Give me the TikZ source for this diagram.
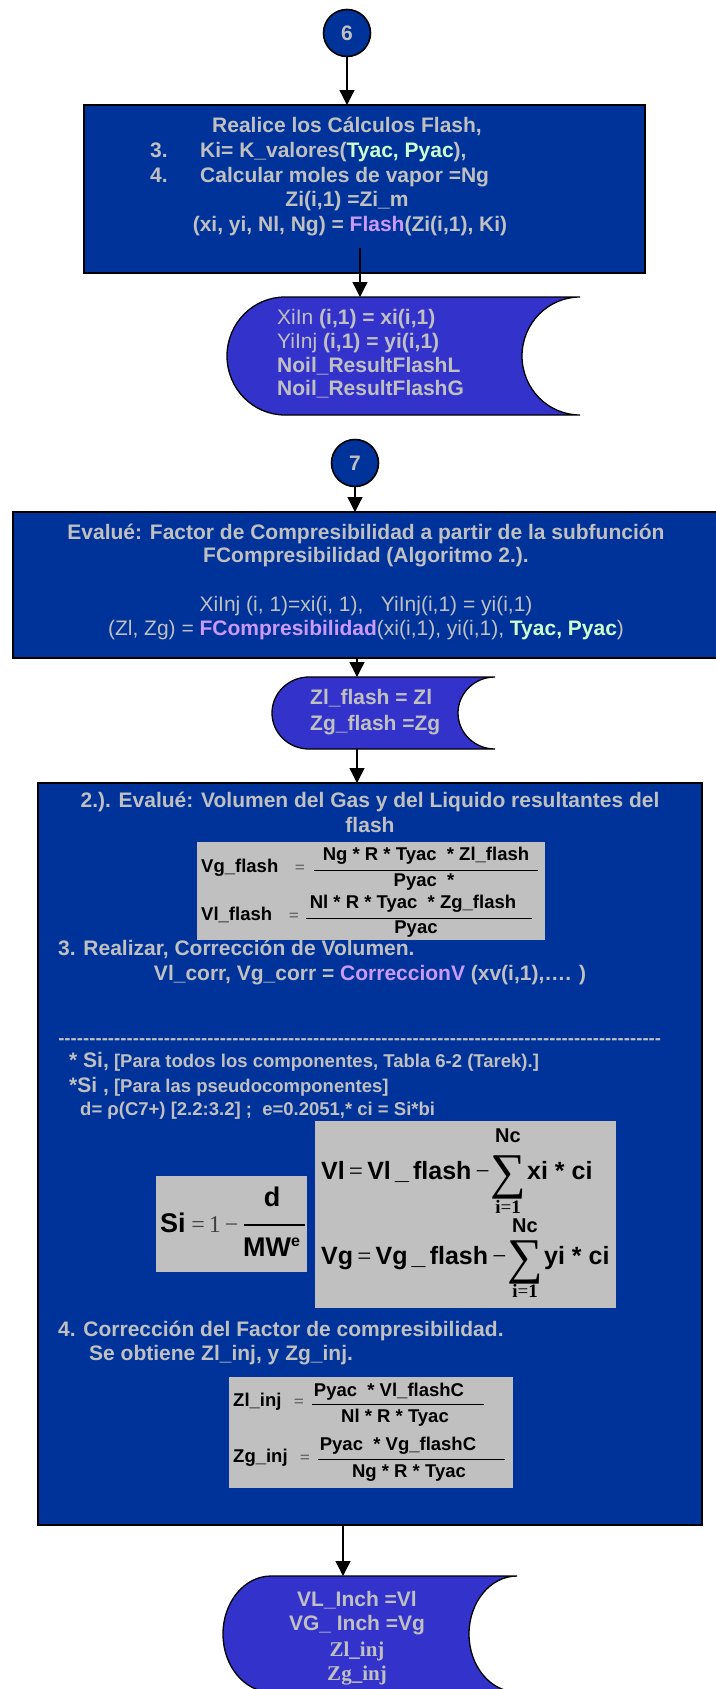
\documentclass[tikz,border=0pt]{standalone}
\usepackage{fontspec}
\setmainfont{Liberation Sans}
\newfontfamily\tms{Liberation Serif}
\usetikzlibrary{arrows.meta}
\definecolor{boxblue}{RGB}{0,51,153}
\definecolor{drumblue}{RGB}{51,51,204}
\definecolor{txtgray}{RGB}{192,192,192}
\definecolor{hlgreen}{RGB}{204,255,204}
\definecolor{hlpurple}{RGB}{204,153,255}
\definecolor{eqgray}{RGB}{192,192,192}
\newcommand\grn[1]{\textcolor{hlgreen}{#1}}
\newcommand\lav[1]{\textcolor{hlpurple}{#1}}
\begin{document}
\begin{tikzpicture}[x=1pt,y=-1pt,
  procbox/.style={draw=black, line width=1.6pt, fill=boxblue, inner sep=0pt, outer sep=0pt, anchor=north west},
  conn/.style={circle, draw=black, line width=1.6pt, fill=boxblue, minimum size=47pt, inner sep=0pt, text=txtgray, font=\bfseries\fontsize{21}{21}\selectfont},
  drum/.style={draw=black, line width=1.3pt, fill=drumblue},
  anchorbox/.style={inner sep=0pt, outer sep=0pt},
  arr/.style={draw=black, line width=1.3pt, -{Triangle[length=15pt,width=15pt]}},
  txt/.style={text=txtgray, inner sep=0pt, font=\bfseries\fontsize{21}{25}\selectfont},
  txtr/.style={text=txtgray, inner sep=0pt, font=\fontsize{21}{25}\selectfont},
  txts/.style={text=txtgray, inner sep=0pt, font=\bfseries\fontsize{18.5}{22}\selectfont},
  eqbox/.style={fill=eqgray, inner sep=0pt, outer sep=0pt, anchor=north west},
  eqt/.style={text=black, inner sep=0pt, font=\bfseries\fontsize{18.5}{20}\selectfont},
  eqbig/.style={text=black, inner sep=0pt, font=\bfseries\fontsize{25}{26}\selectfont},
  eqsi/.style={text=black, inner sep=0pt, font=\bfseries\fontsize{27}{28}\selectfont},
  eqop/.style={text=black!75, inner sep=0pt, font=\tms\fontsize{18}{20}\selectfont},
  sig/.style={text=black, inner sep=0pt, font=\tms\fontsize{50}{50}\selectfont},
  lim/.style={text=black, inner sep=0pt, font=\bfseries\fontsize{20}{20}\selectfont},
  limb/.style={text=black, inner sep=0pt, font=\tms\bfseries\fontsize{19}{19}\selectfont},
  fracbar/.style={draw=black, line width=1pt}
]
\useasboundingbox (0,0) rectangle (715,1689);

% ---------- connector 6 and box 1
\node[conn] (c6) at (347,33) {6};
\node[procbox, minimum width=561pt, minimum height=168pt] (b1) at (84,105) {};
\node[txt, anchor=mid] (t1a) at (347,130) {Realice los Cálculos Flash,};
\node[txt, anchor=mid west] (t1b) at (150,155) {3.};
\node[txt, anchor=mid west] (t1c) at (200,155) {Ki= K\_valores(\grn{Tyac, Pyac}),};
\node[txt, anchor=mid west] (t1d) at (150,180) {4.};
\node[txt, anchor=mid west] (t1e) at (200,180) {Calcular moles de vapor =Ng};
\node[txt, anchor=mid] (t1f) at (347,204) {Zi(i,1) =Zi\_m};
\node[txt, anchor=mid] (t1g) at (350,229) {(xi, yi, Nl, Ng) = \lav{Flash}(Zi(i,1), Ki)};

% ---------- stored data 1
\path[drum] (580,297) -- (285,297) arc[start angle=90,end angle=270,x radius=58pt,y radius=59pt] -- (580,415) arc[start angle=-90,end angle=-270,x radius=58pt,y radius=59pt] -- cycle;
\node[anchorbox, minimum width=353pt, minimum height=118pt] (d1) at (403.5,356) {};
\node[txt, anchor=mid west] (t2a) at (277,322) {{\mdseries XiIn} (i,1) = xi(i,1)};
\node[txt, anchor=mid west] (t2b) at (277,346) {{\mdseries YiInj} (i,1) = yi(i,1)};
\node[txt, anchor=mid west] (t2c) at (277,370) {Noil\_ResultFlashL};
\node[txt, anchor=mid west] (t2d) at (277,393) {Noil\_ResultFlashG};

% ---------- connector 7 and box 2
\node[conn] (c7) at (355,463) {7};
\node[procbox, minimum width=704pt, minimum height=146pt] (b2) at (13,512) {};
\node[txt, anchor=mid] (t3a) at (366,537) {Evalué: Factor de Compresibilidad a partir de la subfunción};
\node[txt, anchor=mid] (t3b) at (366,560) {FCompresibilidad (Algoritmo 2.).};
\node[txtr, anchor=mid] (t3c) at (366,609) {XiInj (i, 1)=xi(i, 1),\ \ \ YiInj(i,1) = yi(i,1)};
\node[txtr, anchor=mid] (t3d) at (366,633) {(Zl, Zg) = {\bfseries\lav{FCompresibilidad}}(xi(i,1), yi(i,1), {\bfseries\grn{Tyac, Pyac}})};

% ---------- stored data 2
\path[drum] (495,677) -- (309,677) arc[start angle=90,end angle=270,x radius=37pt,y radius=36pt] -- (495,749) arc[start angle=-90,end angle=-270,x radius=37pt,y radius=36pt] -- cycle;
\node[anchorbox, minimum width=223pt, minimum height=72pt] (d2) at (383.5,713) {};
\node[txt, anchor=mid west] (t4a) at (310,702) {Zl\_flash = Zl};
\node[txt, anchor=mid west] (t4b) at (310,728) {Zg\_flash =Zg};

% ---------- box 3
\node[procbox, minimum width=664pt, minimum height=742pt] (b3) at (38,783) {};
\node[txt, anchor=mid] (t5a) at (370,805) {2.). Evalué: Volumen del Gas y del Liquido resultantes del};
\node[txt, anchor=mid] (t5b) at (370,830) {flash};

\node[eqbox, minimum width=348pt, minimum height=98pt] (g1) at (197,842) {};
\node[eqt, anchor=mid west] (g1a) at (201,870) {Vg\_flash};
\node[eqop, anchor=mid] (g1b) at (300,871) {=};
\node[eqt, anchor=mid] (g1c) at (426,858) {Ng * R * Tyac\ \ * Zl\_flash};
\draw[fracbar] (314,870) -- (538,870);
\node[eqt, anchor=mid] (g1d) at (424,884) {Pyac\ \ *};
\node[eqt, anchor=mid west] (g1e) at (201,918) {Vl\_flash};
\node[eqop, anchor=mid] (g1f) at (294,919) {=};
\node[eqt, anchor=mid] (g1g) at (413,906) {Nl * R * Tyac\ \ * Zg\_flash};
\draw[fracbar] (306,918) -- (532,918);
\node[eqt, anchor=mid] (g1h) at (416,931) {Pyac};

\node[txt, anchor=mid west] (t5c) at (58,953) {3. Realizar, Corrección de Volumen.};
\node[txt, anchor=mid] (t5d) at (370,978) {Vl\_corr, Vg\_corr = \lav{CorreccionV} (xv(i,1),…. )};
\node[txts, anchor=mid west] (t5e) at (58,1042) {\makebox[603pt]{\xleaders\hbox{-}\hfill}};
\node[txts, anchor=mid west] (t5f) at (69,1065) {{\fontsize{21}{22}\selectfont * Si,} [Para todos los componentes, Tabla 6-2 (Tarek).]};
\node[txts, anchor=mid west] (t5g) at (69,1090) {{\fontsize{21}{22}\selectfont *Si ,} [Para las pseudocomponentes]};
\node[txts, anchor=mid west] (t5h) at (80,1113) {d= ρ(C7+) [2.2:3.2] ;\ \ e=0.2051,* ci = Si*bi};

% Si formula
\node[eqbox, minimum width=151pt, minimum height=96pt] (g2) at (156,1176) {};
\node[eqsi, anchor=mid west] (s1) at (160,1230) {Si};
\node[eqop, anchor=mid, font=\tms\fontsize{24}{24}\selectfont] (s2) at (215,1230) {=\,1\,−};
\draw[fracbar, line width=1.4pt] (244,1225) -- (305,1225);
\node[eqsi, anchor=mid] (s3) at (272,1204) {d};
\node[eqsi, anchor=mid west] (s4) at (243,1254) {MW\raisebox{10pt}{\fontsize{16}{16}\selectfont e}};

% Vl / Vg formulas
\node[eqbox, minimum width=301pt, minimum height=187pt] (g3) at (315,1121) {};
\node[eqbig, anchor=mid west] (v1) at (321,1177) {Vl{\tms\mdseries\,=\,}Vl\,\_\,flash{\tms\mdseries\,−}};
\node[sig, anchor=center] (v2) at (508,1188) {\smash{∑}};
\node[lim, anchor=mid] (v3) at (508,1140) {Nc};
\node[limb, anchor=mid] (v4) at (508,1211) {i{\mdseries =}1};
\node[eqbig, anchor=mid west] (v5) at (527,1177) {xi * ci};
\node[eqbig, anchor=mid west] (w1) at (321,1262) {Vg{\tms\mdseries\,=\,}Vg\,\_\,flash{\tms\mdseries\,−}};
\node[sig, anchor=center] (w2) at (525,1273) {\smash{∑}};
\node[lim, anchor=mid] (w3) at (525,1230) {Nc};
\node[limb, anchor=mid] (w4) at (525,1295) {i{\mdseries =}1};
\node[eqbig, anchor=mid west] (w5) at (544,1262) {yi * ci};

\node[txt, anchor=mid west] (t5i) at (58,1334) {4. Corrección del Factor de compresibilidad.};
\node[txt, anchor=mid west] (t5j) at (89,1358) {Se obtiene Zl\_inj, y Zg\_inj.};

% Z formulas
\node[eqbox, minimum width=284pt, minimum height=111pt] (g4) at (229,1377) {};
\node[eqt, anchor=mid west] (z1) at (233,1404) {Zl\_inj};
\node[eqop, anchor=mid] (z2) at (299,1405) {=};
\node[eqt, anchor=mid] (z3) at (389,1394) {Pyac\ \ * Vl\_flashC};
\draw[fracbar] (312,1404) -- (484,1404);
\node[eqt, anchor=mid] (z4) at (395,1420) {Nl * R * Tyac};
\node[eqt, anchor=mid west] (z5) at (233,1460) {Zg\_inj};
\node[eqop, anchor=mid] (z6) at (305,1461) {=};
\node[eqt, anchor=mid] (z7) at (398,1448) {Pyac\ \ * Vg\_flashC};
\draw[fracbar] (318,1459) -- (505,1459);
\node[eqt, anchor=mid] (z8) at (409,1475) {Ng * R * Tyac};

% ---------- stored data 3
\path[drum] (517,1576) -- (271,1576) arc[start angle=90,end angle=270,x radius=48pt,y radius=58pt] -- (517,1692) arc[start angle=-90,end angle=-270,x radius=48pt,y radius=58pt] -- cycle;
\node[anchorbox, minimum width=294pt, minimum height=116pt] (d3) at (370,1634) {};
\node[txt, anchor=mid] (t6a) at (357,1604) {VL\_Inch =Vl};
\node[txt, anchor=mid] (t6b) at (357,1628) {VG\_ Inch =Vg};
\node[txt, anchor=mid, font=\tms\bfseries\fontsize{21}{25}\selectfont] (t6c) at (357,1654) {Zl\_inj};
\node[txt, anchor=mid, font=\tms\bfseries\fontsize{21}{25}\selectfont] (t6d) at (357,1678) {Zg\_inj};

% ---------- connectors
\coordinate (x1) at (360,248);
\coordinate (x2) at (357,0);
\coordinate (x3) at (343,0);
\draw[arr] (c6) -- (c6 |- b1.north);
\draw[arr] (x1) -- (x1 |- d1.north);
\draw[arr] (c7) -- (c7 |- b2.north);
\draw[arr] (x2 |- b2.south) -- (x2 |- d2.north);
\draw[arr] (x2 |- d2.south) -- (x2 |- b3.north);
\draw[arr] (x3 |- b3.south) -- (x3 |- d3.north);
\end{tikzpicture}
\end{document}
